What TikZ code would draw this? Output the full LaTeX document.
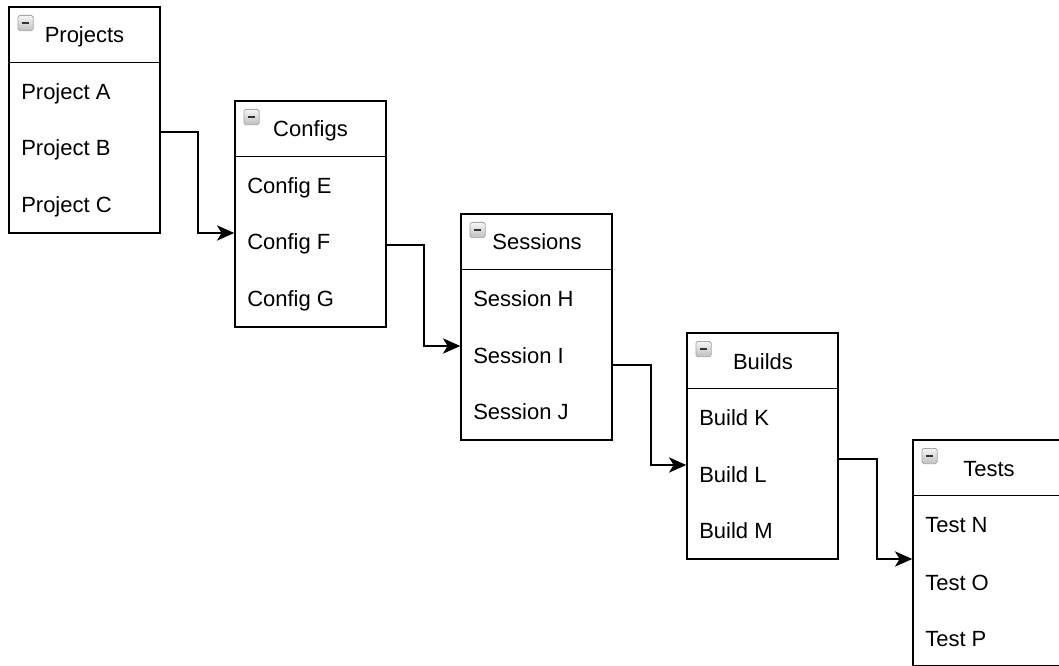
\documentclass[tikz,border=0pt]{standalone}
\usepackage{fontspec}
\setmainfont{Liberation Sans}
\usetikzlibrary{arrows.meta,calc}

\tikzset{
  table/.style={draw=black, line width=1.1pt, fill=white, inner sep=0pt,
                minimum width=113.25pt, minimum height=169.5pt},
  sep/.style={draw=black, line width=1.1pt},
  head/.style={anchor=base, inner sep=0pt, font=\fontsize{16.5}{19}\selectfont},
  item/.style={anchor=base west, inner sep=0pt, font=\fontsize{16.5}{19}\selectfont},
  toggle/.style={anchor=north west, draw=gray!70, line width=0.6pt,
                 rounded corners=1.4pt, top color=gray!8, bottom color=gray!50,
                 minimum size=11.5pt, inner sep=0pt,
                 path picture={\draw[line width=1.8pt, black!80]
                   ($(path picture bounding box.west)!0.25!(path picture bounding box.east)$) --
                   ($(path picture bounding box.west)!0.75!(path picture bounding box.east)$);}},
  link/.style={draw=black, line width=1.2pt,
               -{Stealth[length=13pt, width=11.5pt, inset=3.5pt]}},
}

\begin{document}
\begin{tikzpicture}[x=0.75pt, y=-0.75pt]
  \useasboundingbox (0,0) rectangle (1059,666);
  \clip (0,0) rectangle (1059,666);

  % Projects
  \node[table] (projects) at (84.5,120) {};
  \draw[sep] ($(projects.north west)+(0,56)$) -- ($(projects.north east)+(0,56)$);
  \node[toggle] (projectsToggle) at (17.5,15) {};
  \node[head] (projectsTitle) at (84.5,43) {Projects};
  \node[item] (projA) at (21,99.5) {Project A};
  \node[item] (projB) at (21,156) {Project B};
  \node[item] (projC) at (21,212.5) {Project C};

  % Configs
  \node[table] (configs) at (310.5,214) {};
  \draw[sep] ($(configs.north west)+(0,56)$) -- ($(configs.north east)+(0,56)$);
  \node[toggle] (configsToggle) at (243.5,109) {};
  \node[head] (configsTitle) at (310.5,137) {Configs};
  \node[item] (confE) at (247,193.5) {Config E};
  \node[item] (confF) at (247,250) {Config F};
  \node[item] (confG) at (247,306.5) {Config G};

  % Sessions
  \node[table] (sessions) at (536.5,327) {};
  \draw[sep] ($(sessions.north west)+(0,56)$) -- ($(sessions.north east)+(0,56)$);
  \node[toggle] (sessionsToggle) at (469.5,222) {};
  \node[head] (sessionsTitle) at (537,250) {Sessions};
  \node[item] (sessH) at (473,306.5) {Session H};
  \node[item] (sessI) at (473,363) {Session I};
  \node[item] (sessJ) at (473,419.5) {Session J};

  % Builds
  \node[table] (builds) at (762.5,446) {};
  \draw[sep] ($(builds.north west)+(0,56)$) -- ($(builds.north east)+(0,56)$);
  \node[toggle] (buildsToggle) at (695.5,341) {};
  \node[head] (buildsTitle) at (763,369) {Builds};
  \node[item] (buildK) at (699,425.5) {Build K};
  \node[item] (buildL) at (699,482) {Build L};
  \node[item] (buildM) at (699,538.5) {Build M};

  % Tests
  \node[table] (tests) at (988.5,553) {};
  \draw[sep] ($(tests.north west)+(0,56)$) -- ($(tests.north east)+(0,56)$);
  \node[toggle] (testsToggle) at (921.5,448) {};
  \node[head] (testsTitle) at (989,476) {Tests};
  \node[item] (testN) at (925,532.5) {Test N};
  \node[item] (testO) at (925,590) {Test O};
  \node[item] (testP) at (925,646.5) {Test P};

  % Links between the tables
  \draw[link] ($(projects.east)+(0,12)$) -- ++(37,0) |- ($(configs.west)+(0,19)$);
  \draw[link] ($(configs.east)+(0,31)$) -- ++(37,0) |- ($(sessions.west)+(0,19)$);
  \draw[link] ($(sessions.east)+(0,38)$) -- ++(38,0) |- ($(builds.west)+(0,19)$);
  \draw[link] ($(builds.east)+(0,13)$) -- ++(38,0) |- ($(tests.west)+(0,6)$);
\end{tikzpicture}
\end{document}
